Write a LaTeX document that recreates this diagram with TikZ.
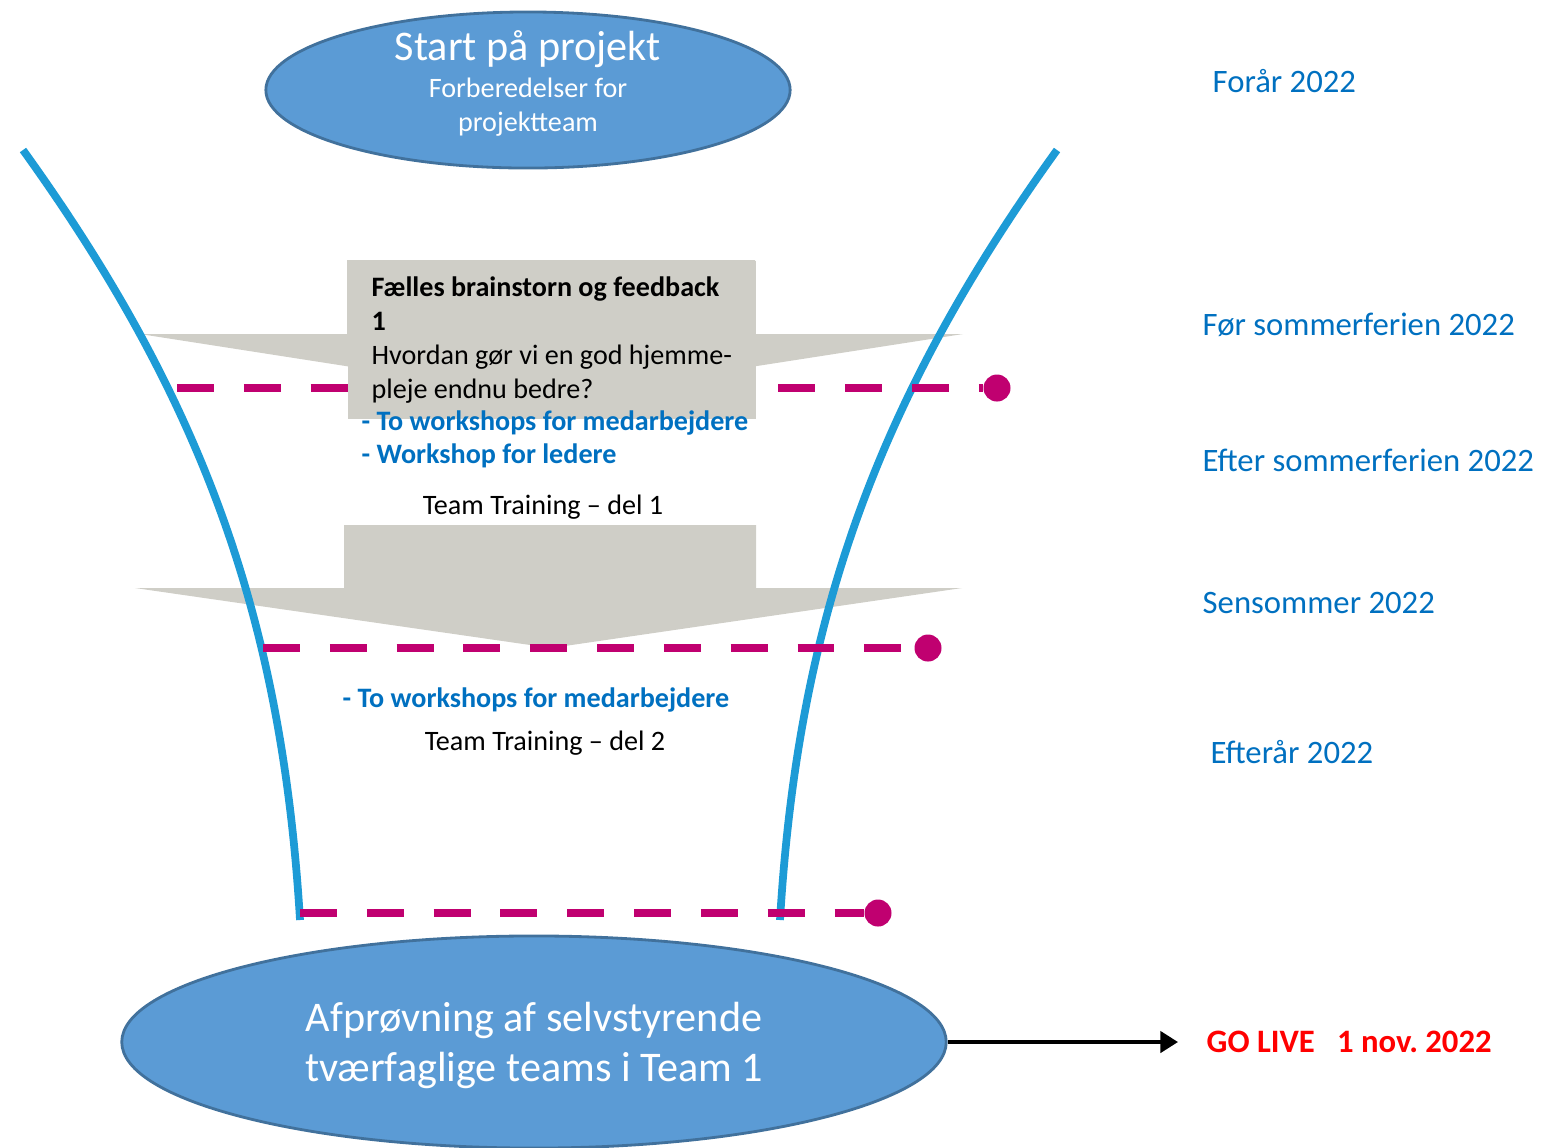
\documentclass[tikz,border=0pt]{standalone}
\usepackage{fontspec}
\setmainfont{Carlito}
\usetikzlibrary{shapes.geometric, arrows.meta}
\definecolor{ovalfill}{RGB}{91,155,213}
\definecolor{ovaledge}{RGB}{65,113,156}
\definecolor{funnelblue}{RGB}{29,155,214}
\definecolor{plum}{RGB}{192,0,112}
\definecolor{textblue}{RGB}{0,112,192}
\definecolor{stone}{RGB}{207,206,199}
\tikzset{oval/.style = {ellipse, fill = ovalfill, draw = ovaledge, line width = 0.8pt, text = white, align = center, inner sep = 0}}
\tikzset{blob/.style = {fill = plum, circle, inner sep = 0, minimum size = 0.27cm}}
\tikzset{deadline/.style = {plum, line width = 2.4pt, dash pattern = on 10.5pt off 8.5pt}}
\tikzset{wall/.style = {funnelblue, line width = 2.2pt}}
\tikzset{season/.style = {text = textblue, anchor = base west, inner sep = 0, font = \fontsize{9.3}{11.2}\selectfont}}
\tikzset{todo/.style = {text = textblue, anchor = base west, inner sep = 0, font = \bfseries\fontsize{8}{9.7}\selectfont}}
\tikzset{session/.style = {anchor = base, inner sep = 0, font = \fontsize{8}{9.7}\selectfont}}
\tikzset{notebox/.style = {fill = stone, anchor = north west, minimum width = 4.08cm, minimum height = 1.58cm, inner sep = 0, align = left, font = \fontsize{8}{9.67}\selectfont}}
\tikzset{golive/.style = {text = red, anchor = west, inner xsep = 0.28cm, inner ysep = 1pt, font = \bfseries\fontsize{9.3}{11.2}\selectfont}}

\begin{document}
\begin{tikzpicture}[x = 0.01cm, y = -0.01cm]
  \useasboundingbox (0, 0) rectangle (1542, 1147);

  \fill [stone] (347, 260) -- (755, 260) -- (755, 334) -- (963, 334) -- (551, 398) -- (140, 334) -- (347, 334) -- cycle;
  \fill [stone] (344, 525) -- (756, 525) -- (756, 588) -- (962, 588) -- (551, 648) -- (135, 588) -- (344, 588) -- cycle;

  \foreach \r in {1, -1} {
    \begin{scope}[shift = {(540, 0)}, xscale = \r]
      \draw [wall] (-517, 150) .. controls (-337, 400) and (-258, 620) .. (-240, 920);
    \end{scope}
  }

  \foreach \y/\xa/\xb [count = \i] in {388/177/997, 648/263/928, 913/300/878} {
    \coordinate (from\i) at (\xa, \y);
    \node [blob] (mark\i) at (\xb, \y) {};
    \draw [deadline] (from\i) -- (mark\i);
  }

  \node [notebox] (brainstorm) at (347, 260) {\textbf{Fælles brainstorn og feedback}\\\textbf{1}\\Hvordan gør vi en god hjemme-\\pleje endnu bedre?};

  \node [todo] (todo1) at (361, 430) {- To workshops for medarbejdere};
  \node [todo] (todo2) at (361, 463) {- Workshop for ledere};
  \node [session] (training1) at (543, 514) {Team Training – del 1};
  \node [todo] (todo3) at (342, 707) {- To workshops for medarbejdere};
  \node [session] (training2) at (545, 750) {Team Training – del 2};

  \node [oval, minimum width = 5.24cm, minimum height = 1.56cm, inner ysep = -0.1cm, text depth = 5.1pt, font = \fontsize{8}{9.67}\selectfont] (start) at (528, 90) {{\fontsize{12}{14}\selectfont Start på projekt}\\[1.1pt]Forberedelser for\\projektteam};
  \node [oval, minimum width = 8.24cm, minimum height = 2.12cm, text depth = 0pt, font = \fontsize{12}{14.2}\selectfont] (trial) at (534, 1042) {Afprøvning af selvstyrende\\tværfaglige teams i Team 1};

  \node [season] (spring) at (1212, 92) {Forår 2022};
  \node [season] (beforesummer) at (1202, 335) {Før sommerferien 2022};
  \node [season] (aftersummer) at (1202, 471) {Efter sommerferien 2022};
  \node [season] (latesummer) at (1202, 613) {Sensommer 2022};
  \node [season] (autumn) at (1210, 763) {Efterår 2022};

  \node [golive] (golive) at (1178, 1042) {GO LIVE\ \ \ 1 nov.\ 2022};
  \draw [-{Triangle[length = 5pt, width = 6pt]}, line width = 1.1pt] (trial) -- (golive);
\end{tikzpicture}
\end{document}
